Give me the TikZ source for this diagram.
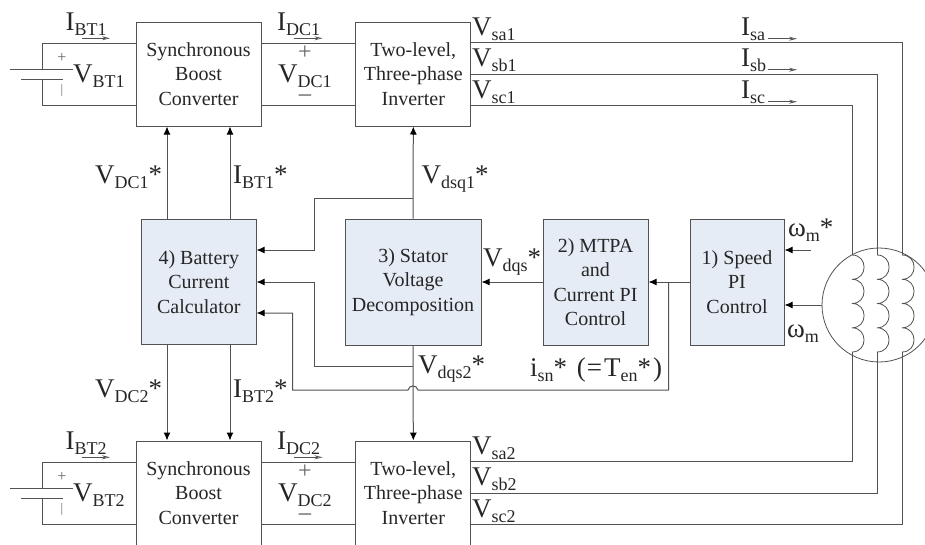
\documentclass[tikz,border=0pt]{standalone}
\usepackage{fontspec}
\setmainfont{Liberation Serif}
\usetikzlibrary{arrows.meta,positioning,calc}
\newcommand{\sgn}[2]{#1\raisebox{-5pt}{\fontsize{18}{18}\selectfont #2}}
\colorlet{wirecol}{black!68}
\definecolor{ctrlfill}{HTML}{E6ECF5}
\tikzset{
  wire/.style={draw=wirecol,line width=1pt},
  sig/.style={wire,-{Latex[length=8pt,width=7pt,color=black]}},
  flow/.style={draw=wirecol,line width=0.6pt,-{Stealth[open,length=8pt,width=4pt]}},
  box/.style={draw=wirecol,line width=1pt,inner sep=0pt,align=center,text=black!85,font=\fontsize{20}{24.5}\selectfont},
  ctrl/.style={box,fill=ctrlfill},
  lbl/.style={anchor=base west,inner sep=0pt,text=black!85,font=\fontsize{27}{27}\selectfont},
  pol/.style={inner sep=0pt,text=black!60}
}
\begin{document}
\begin{tikzpicture}[x=1pt,y=-1pt,>=Latex]
\useasboundingbox (0,0) rectangle (925,544);
\node (calc) [ctrl,minimum width=114.5pt,minimum height=125.5pt] at (198.8,281.8) {4) Battery\\Current\\Calculator};
\node (stator) [ctrl,minimum width=136pt,minimum height=126pt] at (413,282) {3) Stator\\Voltage\\Decomposition};
\node (mtpa) [ctrl,minimum width=105pt,minimum height=126pt] at (595.5,282) {2) MTPA\\and\\Current PI\\Control};
\node (speed) [ctrl,minimum width=94pt,minimum height=126pt] at (737,282) {1) Speed\\PI\\Control};
\foreach \n/\yo in {1/0,2/419}{
  \node (sbc\n) [box,minimum width=125pt,minimum height=104pt] at (198.5,74+\yo) {Synchronous\\Boost\\Converter};
  \node (inv\n) [box,minimum width=114.7pt,minimum height=104pt] at (413.3,74+\yo) {Two-level,\\Three-phase\\Inverter};
  \coordinate (batT\n) at (42,69+\yo);
  \coordinate (batB\n) at (42,79+\yo);
  \draw[wire] (sbc\n.west |- 0,43+\yo) -| (batT\n);
  \draw[wire] (sbc\n.west |- 0,105+\yo) -| (batB\n);
  \draw[wire] ($(batT\n)+(-32,0)$) -- ($(batT\n)+(31,0)$);
  \draw[wire] ($(batB\n)+(-21,0)$) -- ($(batB\n)+(21,0)$);
  \draw[wire] (sbc\n.east |- 0,43+\yo) -- (inv\n.west |- 0,43+\yo);
  \draw[wire] (sbc\n.east |- 0,105+\yo) -- (inv\n.west |- 0,105+\yo);
  \node (plusB\n) [pol,font=\fontsize{16}{16}\selectfont] at (62,58+\yo) {+};
  \node (minusB\n) [pol,font=\fontsize{13}{13}\selectfont] at (62,90+\yo) {|};
  \node (plusD\n) [pol,font=\fontsize{24}{24}\selectfont] at (305,53+\yo) {+};
  \node (minusD\n) [pol,font=\fontsize{27}{27}\selectfont] at (305,100+\yo) {−};
  \node (lblVb\n) [lbl] at (73,82.5+\yo) {\sgn{V}{BT\n}};
  \node (lblIb\n) [lbl] at (65.5,30.5+\yo) {\sgn{I}{BT\n}};
  \node (lblId\n) [lbl] at (277,30.5+\yo) {\sgn{I}{DC\n}};
  \node (lblVd\n) [lbl] at (278,82.5+\yo) {\sgn{V}{DC\n}};
  \coordinate (fbS\n) at (82,38.3+\yo);
  \coordinate (fdS\n) at (294,38.3+\yo);
  \draw[flow] (fbS\n) -- ++(28,0);
  \draw[flow] (fdS\n) -- ++(28.5,0);
}
\foreach \p/\y in {a/35,b/66.7,c/98.3}{\node (lblV\p1) [lbl] at (472,\y) {\sgn{V}{s\p1}};}
\foreach \p/\y in {a/454,b/485.7,c/517}{\node (lblV\p2) [lbl] at (472,\y) {\sgn{V}{s\p2}};}
\foreach \p/\y in {a/35.7,b/66.7,c/98.7}{
  \node (lblI\p) [lbl] at (741,\y) {\sgn{I}{s\p}};
  \coordinate (isS\p) at (768,\y+3);
  \draw[flow] (isS\p) -- ++(29,0);
}
\draw[sig] (calc.north -| 167,0) -- (sbc1.south -| 167,0);
\draw[sig] (calc.north -| 230,0) -- (sbc1.south -| 230,0);
\draw[sig] (calc.south -| 167,0) -- (sbc2.north -| 167,0);
\draw[sig] (calc.south -| 230,0) -- (sbc2.north -| 230,0);
\node (lblVd) [lbl] at (95,183) {\sgn{V}{DC1}*};
\node (lblIb) [lbl] at (233,183) {\sgn{I}{BT1}*};
\node (lblVe) [lbl] at (95,397) {\sgn{V}{DC2}*};
\node (lblIc) [lbl] at (233,397) {\sgn{I}{BT2}*};
\draw[sig] (stator.north) -- (inv1.south);
\draw[sig] (stator.south) -- (inv2.north);
\draw[sig] (stator.north |- 0,198) -| (314,250) -- (calc.east |- 0,250);
\draw[sig] (stator.south |- 0,366) -| (314,282) -- (calc.east |- 0,282);
\draw[sig] (mtpa.west) -- (stator.east);
\draw[sig] (speed.west) -- (mtpa.east);
\coordinate (isnTap) at (668.5,282);
\draw[sig] (isnTap) -- (668.5,390) -- (418,390) .. controls (416.5,384.5) and (409.5,384.5) .. (408,390) -| (292.5,313) -- (calc.east |- 0,313);
\node (lblVq) [lbl] at (421.5,183) {\sgn{V}{dsq1}*};
\node (lblVr) [lbl] at (418,373) {\sgn{V}{dqs2}*};
\node (lblVs) [lbl] at (483,266.7) {\sgn{V}{dqs}*};
\node (lblIsn) [lbl] at (530,376) {\sgn{i}{sn}*\hspace{3pt} (\hspace{1pt}=\hspace{2pt}\sgn{T}{en}*\hspace{2pt})};
\node (motor) [draw=wirecol,line width=0.8pt,circle,minimum size=114pt,inner sep=0pt] at (879,305) {};
\coordinate (wmRef) at (811,250);
\draw[sig] (wmRef) -- (speed.east |- wmRef);
\draw[sig] (motor.west) -- (speed.east |- motor.west);
\node (lblWr) [lbl] at (788,236) {\sgn{ω}{m}*};
\node (lblWm) [lbl] at (787,337) {\sgn{ω}{m}};
\foreach \c/\x in {a/852,b/877,c/902}{
  \coordinate (coilT\c) at (\x,255);
  \coordinate (coilB\c) at (\x,352);
  \draw[wirecol,line width=0.8pt] (coilT\c)
    to[out=0,in=0,looseness=1.7] (\x,279.3)
    to[out=0,in=0,looseness=1.7] (\x,303.5)
    to[out=0,in=0,looseness=1.7] (\x,327.8)
    to[out=0,in=0,looseness=1.7] (coilB\c);
}
\draw[wire] (inv1.east |- 0,42.5) -| (coilTc);
\draw[wire] (inv1.east |- 0,74) -| (coilTb);
\draw[wire] (inv1.east |- 0,105) -| (coilTa);
\draw[wire] (inv2.east |- 0,461) -| (coilBa);
\draw[wire] (inv2.east |- 0,493) -| (coilBb);
\draw[wire] (inv2.east |- 0,524) -| (coilBc);
\end{tikzpicture}
\end{document}
